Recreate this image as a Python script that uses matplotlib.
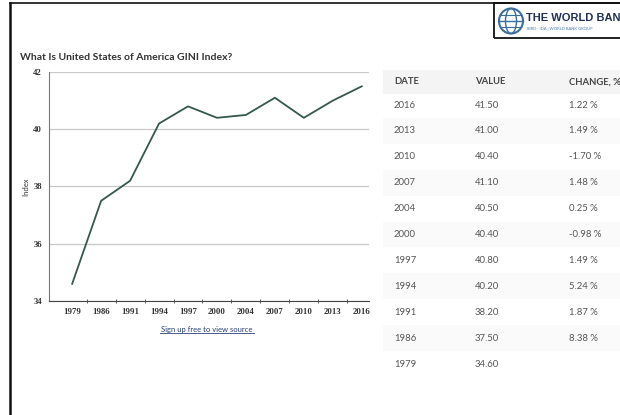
import matplotlib.pyplot as plt
from matplotlib.patches import Rectangle, Ellipse

years = ['1979', '1986', '1991', '1994', '1997', '2000', '2004', '2007', '2010', '2013', '2016']
gini = [34.6, 37.5, 38.2, 40.2, 40.8, 40.4, 40.5, 41.1, 40.4, 41.0, 41.5]
changes = ['', '8.38 %', '1.87 %', '5.24 %', '1.49 %', '-0.98 %', '0.25 %', '1.48 %', '-1.70 %', '1.49 %', '1.22 %']
yticks = [34, 36, 38, 40, 42]

W, H = 620, 415


def fx(x):
    return x / W


def fy(y):
    return 1 - y / H


fig = plt.figure(figsize=(6.2, 4.15), dpi=100)
fig.patch.set_facecolor('white')
plt.rcParams['font.family'] = ['Lato', 'DejaVu Sans']

# outer frame lines
fig.add_artist(plt.Line2D([fx(10), fx(10)], [fy(3), fy(415)], color='#111111', lw=1.8))
fig.add_artist(plt.Line2D([fx(10), fx(620)], [fy(3), fy(3)], color='#111111', lw=1.2))

# logo box (cut at the right edge, like the reference)
fig.add_artist(Rectangle((fx(494), fy(38)), fx(140), fy(3) - fy(38), transform=fig.transFigure,
                         fill=False, edgecolor='#222222', lw=1.4))
fig.add_artist(Ellipse((fx(511), fy(21)), fx(24), fy(0) - fy(25), transform=fig.transFigure,
                       fill=False, edgecolor='#3b6e9e', lw=1.5))
fig.add_artist(Ellipse((fx(511), fy(21)), fx(11), fy(0) - fy(25), transform=fig.transFigure,
                       fill=False, edgecolor='#3b6e9e', lw=1.0))
fig.add_artist(plt.Line2D([fx(499), fx(523)], [fy(21), fy(21)], color='#3b6e9e', lw=1.0))
fig.add_artist(plt.Line2D([fx(501), fx(521)], [fy(15), fy(15)], color='#3b6e9e', lw=0.8))
fig.add_artist(plt.Line2D([fx(501), fx(521)], [fy(27), fy(27)], color='#3b6e9e', lw=0.8))
fig.text(fx(526), fy(18), 'THE WORLD BAN', fontsize=8, fontweight='bold', color='#1f2f55',
         va='center', ha='left', family=['Liberation Sans', 'DejaVu Sans'])
fig.text(fx(527), fy(29), 'IBRD · IDA | WORLD BANK GROUP', fontsize=3, color='#4a7ab0',
         va='center', ha='left')

# title
fig.text(fx(20), fy(57), 'What Is United States of America GINI Index?', fontsize=7.5,
         fontweight='bold', color='#333333', va='center', ha='left')

# line chart
ax = fig.add_axes([fx(49), fy(301), fx(320), fy(72) - fy(301)])
x = range(len(years))
ax.plot(x, gini, color='#35584a', lw=1.3)
ax.set_xlim(-0.8, len(years) - 0.75)
ax.set_ylim(34, 42)
ax.set_yticks(yticks)
ax.set_xticks(list(x))
ax.set_xticklabels(years)
ax.set_xticks([i + 0.5 for i in range(len(years) - 1)], minor=True)
ax.grid(axis='y', color='#c8c8c8', lw=0.9)
ax.set_axisbelow(True)
for s in ['top', 'right']:
    ax.spines[s].set_visible(False)
ax.spines['left'].set_color('#777777')
ax.spines['bottom'].set_color('#444444')
ax.tick_params(axis='both', which='major', length=0, labelsize=6.3, labelcolor='#333333', pad=5)
ax.tick_params(axis='x', which='minor', length=3, color='#444444', direction='inout')
for lab in ax.get_xticklabels() + ax.get_yticklabels():
    lab.set_family(['Liberation Serif', 'DejaVu Serif'])
    lab.set_fontweight('bold')
ax.set_ylabel('Index', fontsize=5.5, color='#333333', labelpad=3)

fig.text(fx(207), fy(329), 'Sign up free to view source', fontsize=5.5, color='#2b3f7a',
         ha='center', va='center')
fig.add_artist(plt.Line2D([fx(160), fx(254)], [fy(333), fy(333)], color='#2b3f7a', lw=0.6))

# data table
fig.add_artist(Rectangle((fx(383), fy(94)), fx(240), fy(70) - fy(94), transform=fig.transFigure,
                         facecolor='#f4f4f4', edgecolor='none'))
hdr_y = 82
fig.text(fx(394), fy(hdr_y), 'DATE', fontsize=6.8, fontweight='bold', color='#444444', va='center')
fig.text(fx(475), fy(hdr_y), 'VALUE', fontsize=6.8, fontweight='bold', color='#444444', va='center')
fig.text(fx(569), fy(hdr_y), 'CHANGE, %', fontsize=6.8, fontweight='bold', color='#444444', va='center')

row_h = 25.9
for i, idx in enumerate(range(len(years) - 1, -1, -1)):
    yc = 105 + i * row_h
    if i % 2 == 1:
        fig.add_artist(Rectangle((fx(383), fy(yc + row_h / 2)), fx(240), row_h / H,
                                 transform=fig.transFigure, facecolor='#fafafa', edgecolor='none'))
    fig.text(fx(394), fy(yc), years[idx], fontsize=6.8, color='#555555', va='center')
    fig.text(fx(475), fy(yc), f'{gini[idx]:.2f}', fontsize=6.8, color='#555555', va='center')
    fig.text(fx(569), fy(yc), changes[idx], fontsize=6.8, color='#555555', va='center')

fig.savefig('out.png', dpi=100)
